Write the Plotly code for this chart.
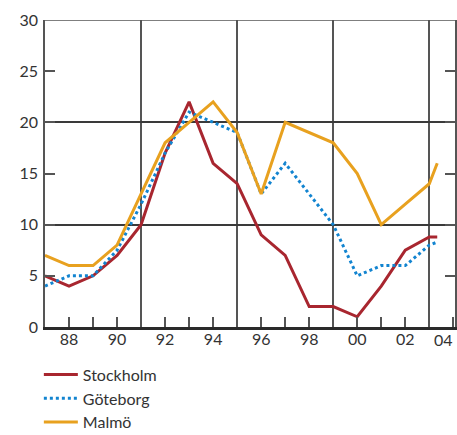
import plotly.graph_objects as go

# Annual observations 1987-2003 plus the latest partial-year reading
years = [1987, 1988, 1989, 1990, 1991, 1992, 1993, 1994, 1995, 1996,
         1997, 1998, 1999, 2000, 2001, 2002, 2003, 2003.33]
stockholm = [5, 4, 5, 7, 10, 17, 22, 16, 14, 9, 7, 2, 2, 1, 4, 7.5, 8.8, 8.8]
goteborg = [4, 5, 5, 7.5, 12, 17, 21, 20, 19, 13, 16, 13, 10, 5, 6, 6, 8, 8.3]
malmo = [7, 6, 6, 8, 13, 18, 20, 22, 19, 13, 20, 19, 18, 15, 10, 12, 14, 16]

tick_years = list(range(1988, 2005))
tick_text = ["88", "", "90", "", "92", "", "94", "", "96", "", "98", "",
             "00", "", "02", "", ""]
grid_years = [1991, 1995, 1999, 2003]
y_ticks = [0, 5, 10, 15, 20, 25, 30]

FONT = "Lato"
TEXT = "#333333"
GRID = "#555555"

fig = go.Figure()
fig.add_trace(go.Scatter(x=years, y=stockholm, name="Stockholm", mode="lines",
                         line=dict(color="#A8262F", width=3)))
fig.add_trace(go.Scatter(x=years, y=goteborg, name="Göteborg", mode="lines",
                         line=dict(color="#1284D0", width=3, dash="dot")))
fig.add_trace(go.Scatter(x=years, y=malmo, name="Malmö", mode="lines",
                         line=dict(color="#E8A11F", width=3)))

fig.update_layout(
    width=457, height=435,
    margin=dict(l=45, r=0, t=20, b=108),
    paper_bgcolor="white", plot_bgcolor="white",
    font=dict(family=FONT, size=16, color=TEXT),
    showlegend=True,
    legend=dict(x=-0.015, y=0.178, xanchor="left", yanchor="top",
                yref="container",
                orientation="v", itemwidth=34, bgcolor="rgba(0,0,0,0)",
                font=dict(family=FONT, size=16, color=TEXT)),
    xaxis=dict(
        range=[1987, 2004.07], tickvals=tick_years, ticktext=tick_text,
        ticks="inside", ticklen=10, tickwidth=1.5, tickcolor=GRID,
        showgrid=False, zeroline=False,
        showline=True, linecolor="#2a2a2a", linewidth=2.5, mirror=False,
        ticklabelstandoff=-4,
        minor=dict(tickvals=grid_years, showgrid=True, gridcolor=GRID,
                   gridwidth=1.5, ticks=""),
    ),
    yaxis=dict(
        range=[0, 30], tickvals=y_ticks,
        ticks="inside", ticklen=10, tickwidth=1.5, tickcolor=GRID,
        showgrid=False, zeroline=False,
        showline=True, linecolor=GRID, linewidth=1.5, mirror="ticks",
        ticklabelstandoff=2,
        minor=dict(tickvals=[10, 20], showgrid=True, gridcolor="#3a3a3a",
                   gridwidth=1.5, ticks=""),
    ),
)

# Top frame line of the plotting area
fig.add_shape(type="line", xref="paper", yref="y", x0=0, x1=1, y0=30, y1=30,
              line=dict(color=GRID, width=1.5))

# Final year label sits flush with the right edge of the axis
fig.add_annotation(x=2004.07, y=0, xref="x", yref="y", text="04",
                   showarrow=False, xanchor="right", yanchor="top", yshift=-1,
                   font=dict(family=FONT, size=16, color=TEXT))

fig.write_html("out.html")
